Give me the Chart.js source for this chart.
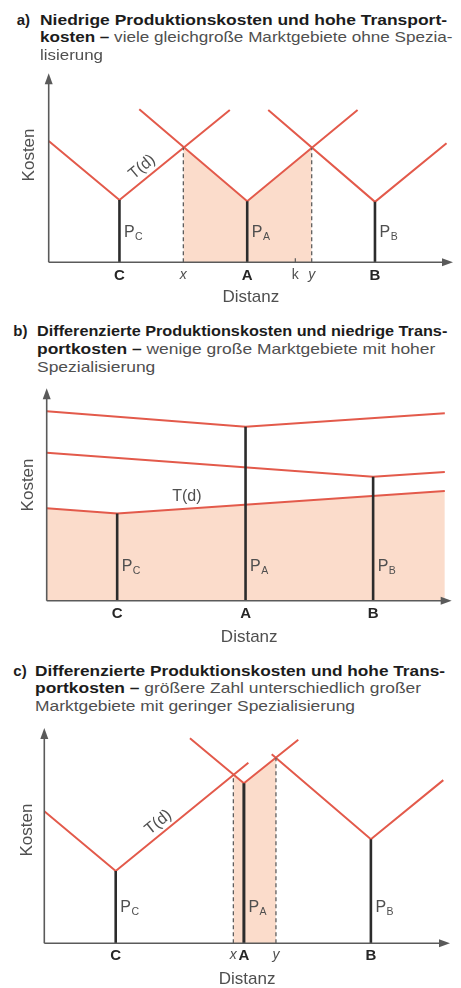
<!DOCTYPE html>
<html lang="de"><head><meta charset="utf-8">
<title>Marktgebiete</title>
<script src="https://cdn.jsdelivr.net/npm/chart.js@4.4.1/dist/chart.umd.min.js"></script>
<style>
html,body{margin:0;padding:0;background:#fff;}
body{position:relative;width:461px;height:988px;overflow:hidden;font-family:"Liberation Sans",Arial,Helvetica,sans-serif;}
.ln{position:absolute;white-space:nowrap;font-size:15px;line-height:18px;color:#4f4f4f;transform-origin:0 0;}
.ln b{color:#1c1c1c;font-weight:bold;}
canvas{position:absolute;left:0;}
</style></head><body>
<canvas id="ca" width="461" height="250" style="top:60px"></canvas>
<canvas id="cb" width="461" height="270" style="top:380px"></canvas>
<canvas id="cc" width="461" height="268" style="top:720px"></canvas>
<script>
// ---------------- data (x: Distanz 0..100, y: Kosten 0..100) ----------------
// Panel a
const aSites = ['C', 'A', 'B'];
const aSiteX = [17.5, 49.1, 80.7];
const aPrice = [33.0, 32.3, 32.0];
const aLeftX = [0, 22.4, 54.3];
const aLeftY = [64.2, 81.0, 80.6];
const aRightX = [44.8, 76.4, 98.4];
const aRightY = [80.6, 80.6, 63.0];
const aBoundLabels = ['x', 'y'];
const aBoundX = [33.3, 65.05];
const aBoundY = [60.8, 60.6];
const aMarkLabels = ['k'];
const aMarkX = [61.0];

// Panel b
const bSites = ['C', 'A', 'B'];
const bSiteX = [17.4, 49.1, 80.6];
const bPrice = [41.1, 81.9, 58.4];
const bEdgeX = [0, 98.3];
const bLeftY = [43.5, 89.2, 69.7];
const bRightY = [51.7, 88.2, 60.6];

// Panel c
const cSites = ['C', 'A', 'B'];
const cSiteX = [17.6, 49.2, 80.5];
const cPrice = [33.6, 74.3, 48.3];
const cLeftX = [0, 35.9, 56.05];
const cLeftY = [61.3, 95.2, 87.8];
const cRightX = [50.3, 62.6, 98.35];
const cRightY = [83.9, 94.5, 75.8];
const cBoundLabels = ['x', 'y'];
const cBoundX = [46.6, 57.1];
const cBoundY = [78.2, 86.2];

// Titles
const titleTags = ['a)', 'b)', 'c)'];
const titleLines = [
  ['<b>Niedrige Produktionskosten und hohe Transport-</b>', '<b>kosten –</b> viele gleichgroße Marktgebiete ohne Spezia-', 'lisierung'],
  ['<b>Differenzierte Produktionskosten und niedrige Trans-</b>', '<b>portkosten –</b> wenige große Marktgebiete mit hoher', 'Spezialisierung'],
  ['<b>Differenzierte Produktionskosten und hohe Trans-</b>', '<b>portkosten –</b> größere Zahl unterschiedlich großer', 'Marktgebiete mit geringer Spezialisierung']
];

// ---------------- style ----------------
const FAM = '"Liberation Sans", Arial, Helvetica, sans-serif';
const RED = '#e35a4b', FILL = '#fbdccb', DARK = '#2c2c2c', AXIS = '#5a5a5a', TXT = '#4f4f4f';

// titles layout
const titleLayout = [
  {tagX: 16.7, x: 40, base: [25.5, 42.5, 60.5], right: [447, 452.5, 103]},
  {tagX: 13.3, x: 36.7, base: [336, 354, 372], right: [447, 435, 155]},
  {tagX: 13.3, x: 35, base: [676, 693.5, 711.5], right: [445, 421, 355]}
];
titleLayout.forEach((L, k) => {
  const tag = document.createElement('div');
  tag.className = 'ln';
  tag.innerHTML = '<b>' + titleTags[k] + '</b>';
  tag.style.left = L.tagX + 'px';
  tag.style.top = (L.base[0] - 14.2) + 'px';
  document.body.appendChild(tag);
  titleLines[k].forEach((html, i) => {
    const d = document.createElement('div');
    d.className = 'ln';
    d.innerHTML = html;
    d.style.left = L.x + 'px';
    d.style.top = (L.base[i] - 14.2) + 'px';
    document.body.appendChild(d);
    const w = d.getBoundingClientRect().width;
    d.style.transform = 'scaleX(' + ((L.right[i] - L.x) / w) + ')';
  });
});

// ---------------- helpers ----------------
function pts(xs, ys) { return xs.map((v, i) => ({x: v, y: ys[i]})); }
function lineDs(data, color, width, extra) {
  return Object.assign({data, borderColor: color, borderWidth: width, pointRadius: 0, pointHoverRadius: 0,
    fill: false, tension: 0, order: 3}, extra || {});
}
function tickList(sites, siteX, bounds, boundX, marks, markX) {
  const t = [];
  sites.forEach((s, i) => t.push({v: siteX[i], l: s, k: 'site'}));
  (bounds || []).forEach((s, i) => t.push({v: boundX[i], l: s, k: 'bound'}));
  (marks || []).forEach((s, i) => t.push({v: markX[i], l: s, k: 'mark'}));
  return t.sort((p, q) => p.v - q.v);
}
function fontFor(t) {
  if (!t || t.k === 'site') return {family: FAM, size: 15, weight: 'bold'};
  return {family: FAM, size: 14, style: t.k === 'bound' ? 'italic' : 'normal', weight: 'normal'};
}

const deco = {
  id: 'deco',
  afterDatasetsDraw(chart, args, o) {
    const {ctx, chartArea: ca, scales: {x, y}} = chart;
    ctx.save();
    // axes with arrows
    ctx.strokeStyle = AXIS; ctx.fillStyle = AXIS; ctx.lineWidth = 1.6;
    ctx.beginPath();
    ctx.moveTo(ca.left, ca.bottom); ctx.lineTo(ca.right - 6, ca.bottom);
    ctx.moveTo(ca.left, ca.bottom); ctx.lineTo(ca.left, ca.top + 6);
    ctx.stroke();
    ctx.beginPath(); ctx.moveTo(ca.right, ca.bottom); ctx.lineTo(ca.right - 11, ca.bottom - 4); ctx.lineTo(ca.right - 11, ca.bottom + 4); ctx.closePath(); ctx.fill();
    ctx.beginPath(); ctx.moveTo(ca.left, ca.top); ctx.lineTo(ca.left - 4, ca.top + 11); ctx.lineTo(ca.left + 4, ca.top + 11); ctx.closePath(); ctx.fill();
    // small marks on the axis
    (o.marks || []).forEach(v => {
      const px = x.getPixelForValue(v);
      ctx.lineWidth = 1.2; ctx.beginPath(); ctx.moveTo(px, ca.bottom - 4); ctx.lineTo(px, ca.bottom); ctx.stroke();
    });
    // price labels P with subscript
    ctx.fillStyle = TXT; ctx.textAlign = 'left'; ctx.textBaseline = 'alphabetic';
    o.sites.forEach((s, i) => {
      const px = x.getPixelForValue(o.siteX[i]) + 4.5, py = y.getPixelForValue(o.pY);
      ctx.font = '16px ' + FAM; ctx.fillText('P', px, py + 5.8);
      const w = ctx.measureText('P').width;
      ctx.font = '10.5px ' + FAM; ctx.fillText(s, px + w + 0.5, py + 9);
    });
    // T(d)
    ctx.save();
    ctx.translate(x.getPixelForValue(o.td[0]), y.getPixelForValue(o.td[1]));
    ctx.rotate(o.td[2] * Math.PI / 180);
    ctx.font = '16px ' + FAM; ctx.textAlign = 'center'; ctx.textBaseline = 'middle'; ctx.fillStyle = TXT;
    ctx.fillText('T(d)', 0, 0);
    ctx.restore();
    // Kosten
    ctx.save();
    ctx.translate(ca.left - o.kDx, y.getPixelForValue(o.kostenY));
    ctx.rotate(-Math.PI / 2);
    ctx.font = '17px ' + FAM; ctx.textAlign = 'center'; ctx.textBaseline = 'middle'; ctx.fillStyle = TXT;
    ctx.fillText('Kosten', 0, 0);
    ctx.restore();
    ctx.restore();
  }
};

function makeChart(id, o) {
  const canvas = document.getElementById(id);
  const H = canvas.height, W = canvas.width;
  const tks = o.ticks;
  return new Chart(canvas, {
    type: 'line',
    data: {datasets: o.datasets},
    options: {
      responsive: false, animation: false, devicePixelRatio: 1, events: [],
      layout: {padding: {left: o.left, right: W - o.right, top: o.top, bottom: 0}},
      plugins: {legend: {display: false}, tooltip: {enabled: false}, deco: o.deco},
      scales: {
        x: {
          type: 'linear', min: 0, max: 100,
          grid: {display: false, drawTicks: false}, border: {display: false},
          afterBuildTicks: s => { s.ticks = tks.map(t => ({value: t.v})); },
          afterFit: s => { s.height = H - o.axisY; },
          ticks: {
            autoSkip: false, maxRotation: 0, minRotation: 0, padding: o.tickPad,
            callback: (v, i) => (tks[i] ? tks[i].l : ''),
            font: c => fontFor(tks[c.index]),
            color: c => (tks[c.index] && tks[c.index].k === 'site' ? '#262626' : TXT)
          },
          title: {display: true, text: 'Distanz', color: TXT,
            font: {family: FAM, size: 17, lineHeight: 1},
            padding: {top: 0, bottom: H - o.distY - 8.5}}
        },
        y: {type: 'linear', min: 0, max: 100, display: false}
      }
    },
    plugins: [deco]
  });
}

// ---------------- Panel a ----------------
const aDatasets = [
  lineDs([{x: aBoundX[0], y: aBoundY[0]}, {x: aSiteX[1], y: aPrice[1]}, {x: aBoundX[1], y: aBoundY[1]}],
    'rgba(0,0,0,0)', 0, {fill: 'origin', backgroundColor: FILL, order: 10})
];
aSites.forEach((s, i) => aDatasets.push(lineDs(pts([aLeftX[i], aSiteX[i], aRightX[i]], [aLeftY[i], aPrice[i], aRightY[i]]), RED, 2, {order: 3})));
aSites.forEach((s, i) => aDatasets.push(lineDs(pts([aSiteX[i], aSiteX[i]], [0, aPrice[i]]), DARK, 2.6, {order: 1})));
aBoundX.forEach((v, j) => aDatasets.push(lineDs(pts([v, v], [0, aBoundY[j]]), '#5e5e5e', 1.3, {borderDash: [4, 3], order: 2})));
makeChart('ca', {
  left: 48.7, right: 453, top: 13.3, axisY: 202.3, distY: 237, tickPad: 4.7,
  ticks: tickList(aSites, aSiteX, aBoundLabels, aBoundX, aMarkLabels, aMarkX),
  datasets: aDatasets,
  deco: {sites: aSites, siteX: aSiteX, pY: 16.6, marks: aMarkX, td: [23.1, 50.4, -40], kostenY: 56.8, kDx: 19.4}
});

// ---------------- Panel b ----------------
const bDatasets = [
  lineDs(pts([bEdgeX[0], bSiteX[0], bEdgeX[1]], [bLeftY[0], bPrice[0], bRightY[0]]),
    'rgba(0,0,0,0)', 0, {fill: 'origin', backgroundColor: FILL, order: 10})
];
bSites.forEach((s, i) => bDatasets.push(lineDs(pts([bEdgeX[0], bSiteX[i], bEdgeX[1]], [bLeftY[i], bPrice[i], bRightY[i]]), RED, 2, {order: 3})));
bSites.forEach((s, i) => bDatasets.push(lineDs(pts([bSiteX[i], bSiteX[i]], [0, bPrice[i]]), DARK, 2.6, {order: 1})));
makeChart('cb', {
  left: 46.7, right: 451.7, top: 8.3, axisY: 220.7, distY: 257, tickPad: 4.3,
  ticks: tickList(bSites, bSiteX),
  datasets: bDatasets,
  deco: {sites: bSites, siteX: bSiteX, pY: 16.8, marks: [], td: [34.6, 48.8, 0], kostenY: 54.5, kDx: 18.7}
});

// ---------------- Panel c ----------------
const cDatasets = [
  lineDs([{x: cBoundX[0], y: cBoundY[0]}, {x: cSiteX[1], y: cPrice[1]}, {x: cBoundX[1], y: cBoundY[1]}],
    'rgba(0,0,0,0)', 0, {fill: 'origin', backgroundColor: FILL, order: 10})
];
cSites.forEach((s, i) => cDatasets.push(lineDs(pts([cLeftX[i], cSiteX[i], cRightX[i]], [cLeftY[i], cPrice[i], cRightY[i]]), RED, 2, {order: 3})));
cSites.forEach((s, i) => cDatasets.push(lineDs(pts([cSiteX[i], cSiteX[i]], [0, cPrice[i]]), DARK, i === 1 ? 3 : 2.6, {order: 1})));
cBoundX.forEach((v, j) => cDatasets.push(lineDs(pts([v, v], [0, cBoundY[j]]), '#5e5e5e', 1.3, {borderDash: [4, 3], order: 2})));
makeChart('cc', {
  left: 44.3, right: 450, top: 8, axisY: 223.3, distY: 259, tickPad: 3.7,
  ticks: tickList(cSites, cSiteX, cBoundLabels, cBoundX),
  datasets: cDatasets,
  deco: {sites: cSites, siteX: cSiteX, pY: 17.1, marks: [], td: [28.1, 56.2, -39], kostenY: 52.6, kDx: 17.3}
});
</script>
</body></html>
